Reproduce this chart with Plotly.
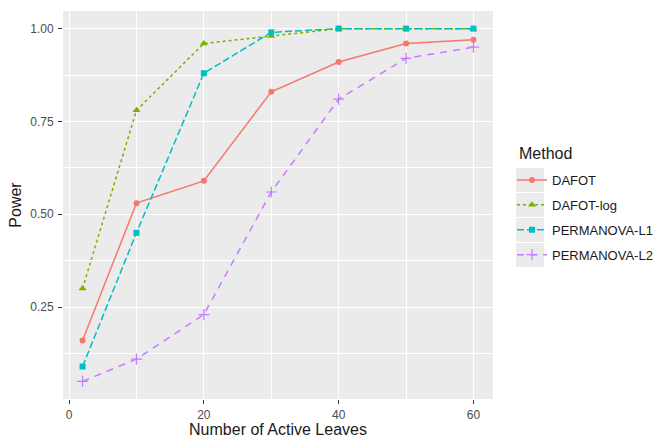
import plotly.graph_objects as go

leaves = [2, 10, 20, 30, 40, 50, 60]
methods = ["DAFOT", "DAFOT-log", "PERMANOVA-L1", "PERMANOVA-L2"]
power_dafot = [0.16, 0.53, 0.59, 0.83, 0.91, 0.96, 0.97]
power_dafot_log = [0.30, 0.78, 0.96, 0.98, 1.00, 1.00, 1.00]
power_perm_l1 = [0.09, 0.45, 0.88, 0.99, 1.00, 1.00, 1.00]
power_perm_l2 = [0.05, 0.11, 0.23, 0.56, 0.81, 0.92, 0.95]
x_ticks = [0, 20, 40, 60]
y_ticks = [0.25, 0.50, 0.75, 1.00]
y_tick_labels = ["0.25", "0.50", "0.75", "1.00"]

series = [power_dafot, power_dafot_log, power_perm_l1, power_perm_l2]
colors = ["#F8766D", "#7CAE00", "#00BFC4", "#C77CFF"]
dashes = ["solid", "3px,3px", "7px,3px", "7px,6px"]
symbols = ["circle", "triangle-up", "square", "cross-thin"]
sizes = [6, 7, 6, 8]

W, H = 654, 438
ml, mr, mt, mb = 63, 161, 11, 39

fig = go.Figure()
for i, (name, ys) in enumerate(zip(methods, series)):
    marker = dict(color=colors[i], size=sizes[i], symbol=symbols[i])
    if symbols[i] == "cross-thin":
        marker["line"] = dict(color=colors[i], width=1.2)
    fig.add_trace(go.Scatter(
        x=leaves, y=ys, name=name, mode="lines+markers",
        line=dict(color=colors[i], width=1.5, dash=dashes[i]),
        marker=marker, legendgroup=name,
    ))

pw = W - ml - mr
ph = H - mt - mb
def px2x(px):
    return (px - ml) / pw
def py2y(py):
    return 1 - (py - mt) / ph

key_centers = [180, 205, 230, 255]
shapes = []
for cy in key_centers:
    shapes.append(dict(type="rect", xref="paper", yref="paper",
                       x0=px2x(516), x1=px2x(544), y0=py2y(cy + 12), y1=py2y(cy - 12),
                       fillcolor="#EBEBEB", line=dict(width=0), layer="below"))

fig.update_layout(
    width=W, height=H,
    margin=dict(l=ml, r=mr, t=mt, b=mb, pad=0, autoexpand=False),
    paper_bgcolor="white", plot_bgcolor="#EBEBEB",
    font=dict(family="Liberation Sans, Arial, sans-serif", size=12, color="#4D4D4D"),
    shapes=shapes,
    annotations=[dict(text="Method", xref="paper", yref="paper",
                      x=px2x(517), y=py2y(153), xanchor="left", yanchor="middle",
                      showarrow=False, font=dict(size=16, color="#1A1A1A"))],
    legend=dict(
        x=px2x(512), xanchor="left", y=py2y(165), yanchor="top",
        font=dict(size=13, color="#1A1A1A"),
        tracegroupgap=5, bgcolor="rgba(0,0,0,0)",
        itemwidth=30,
    ),
    xaxis=dict(
        range=[-0.9, 62.9], tickvals=x_ticks, ticktext=[str(v) for v in x_ticks],
        showgrid=True, gridcolor="white", gridwidth=1.3,
        minor=dict(tickvals=[10, 30, 50], showgrid=True, gridcolor="white", gridwidth=0.6),
        ticks="outside", ticklen=4, tickcolor="#333333", tickwidth=1,
        ticklabelstandoff=1,
        zeroline=False, showline=False,
        title=dict(text="Number of Active Leaves", font=dict(size=16, color="#1A1A1A"), standoff=9),
        tickfont=dict(size=12, color="#4D4D4D"),
    ),
    yaxis=dict(
        range=[0.0025, 1.0475], tickvals=y_ticks, ticktext=y_tick_labels,
        showgrid=True, gridcolor="white", gridwidth=1.3,
        minor=dict(tickvals=[0.125, 0.375, 0.625, 0.875], showgrid=True, gridcolor="white", gridwidth=0.6),
        ticks="outside", ticklen=4, tickcolor="#333333", tickwidth=1,
        ticklabelstandoff=2,
        zeroline=False, showline=False,
        title=dict(text="Power", font=dict(size=16, color="#1A1A1A"), standoff=4),
        tickfont=dict(size=12, color="#4D4D4D"),
    ),
)

fig.write_html("out.html")
